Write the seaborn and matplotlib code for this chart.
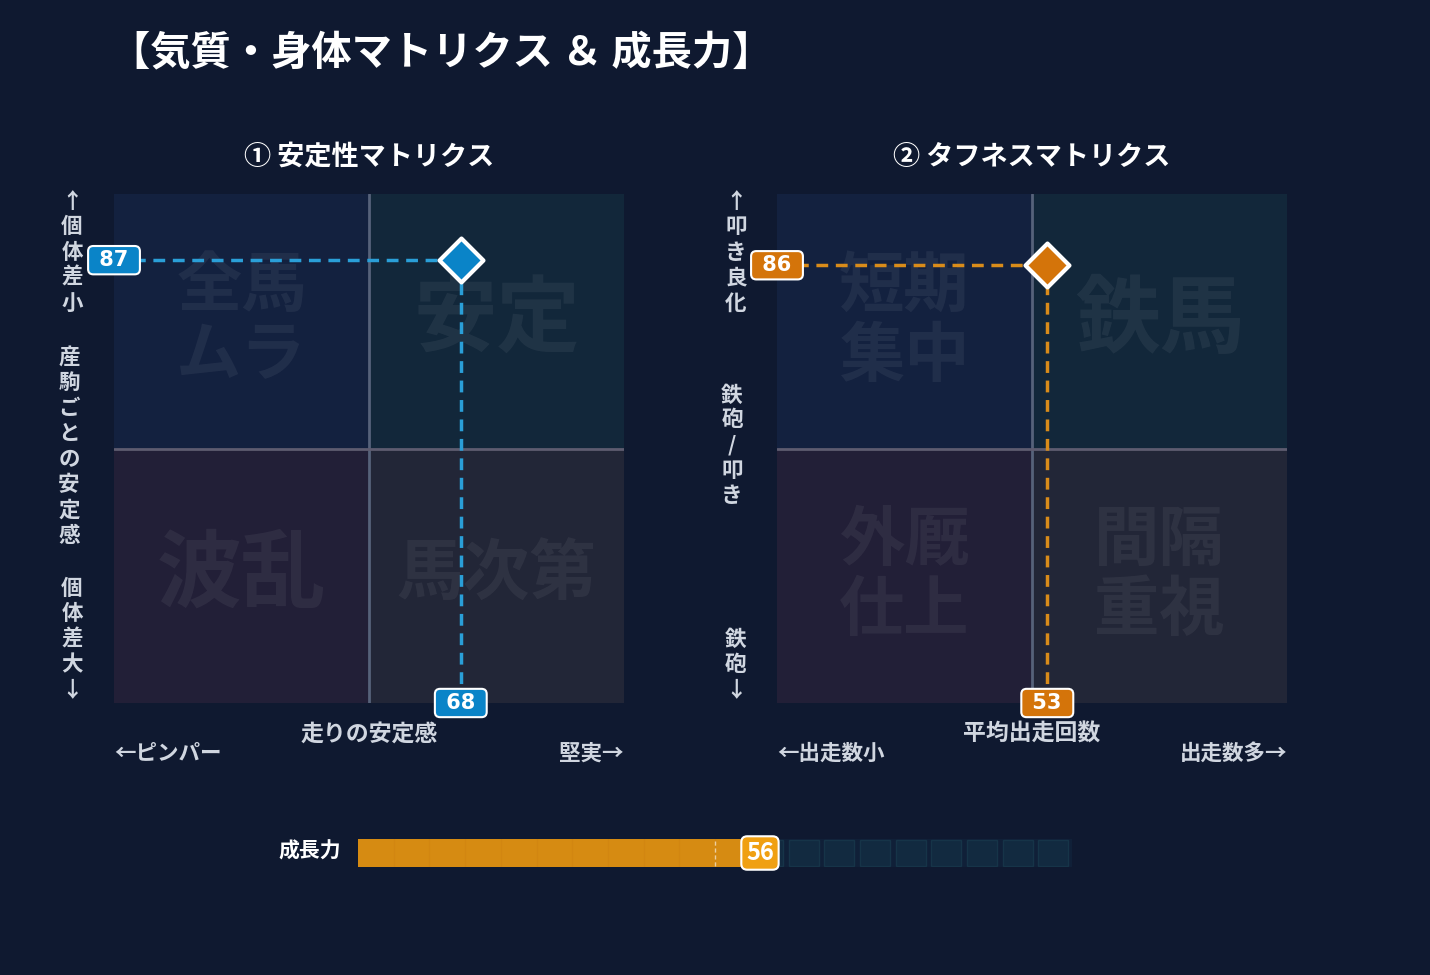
import matplotlib
matplotlib.use("Agg")
import matplotlib.pyplot as plt
from matplotlib.patches import Rectangle
import seaborn as sns

sns.set_theme(style="dark")
plt.rcParams["font.family"] = ["Noto Sans CJK JP", "DejaVu Sans"]

W, H = 1430, 975
BG = "#0f1930"

# データ
main_title = "【気質・身体マトリクス ＆ 成長力】"
panel_titles = ["① 安定性マトリクス", "② タフネスマトリクス"]
x_labels = ["走りの安定感", "平均出走回数"]
x_left_labels = ["←ピンパー", "←出走数小"]
x_right_labels = ["堅実→", "出走数多→"]
y_label_groups = [
    ["↑個体差小", "産駒ごとの安定感", "個体差大↓"],
    ["↑叩き良化", "鉄砲/叩き", "鉄砲↓"],
]
quad_words = [
    ["全馬\nムラ", "安定", "波乱", "馬次第"],
    ["短期\n集中", "鉄馬", "外厩\n仕上", "間隔\n重視"],
]
point_x = [68, 53]
point_y = [87, 86]
growth_label = "成長力"
growth_value = 56
growth_mark = 50

# 見た目
panel_left_px = [114, 777]
accent = ["#0a84c8", "#d4740a"]
dash_color = ["#2a9fd8", "#d98c1a"]
quad_colors = ["#13213f", "#12273a", "#221f37", "#222637"]
quad_sizes = [[47, 60, 61, 48], [47, 61, 47, 47]]
# y軸ラベル (x, 先頭文字の中心y, 文字間隔)
y_label_pos = [
    [(72, 201, 25.5), (69, 357, 25.5), (72, 588, 25.5)],
    [(736, 201, 25.5), (732, 395, 25), (736, 639, 25.5)],
]
label_color = "#d0d6e0"


def fx(x):
    return x / W


def fy(y):
    return 1 - y / H


fig = plt.figure(figsize=(W / 100, H / 100), dpi=100, facecolor=BG)

fig.text(fx(110), fy(53), main_title, color="white", fontsize=29,
         fontweight="bold", ha="left", va="center")

for i in range(2):
    x0 = panel_left_px[i]
    ax = fig.add_axes([fx(x0), fy(703), 510 / W, 509 / H])
    ax.set_xlim(0, 100)
    ax.set_ylim(0, 100)
    ax.set_facecolor(BG)
    for s in ax.spines.values():
        s.set_visible(False)
    ax.set_xticks([])
    ax.set_yticks([])

    # 4象限
    spans = [(50, 100, 0, 0.5), (50, 100, 0.5, 1), (0, 50, 0, 0.5), (0, 50, 0.5, 1)]
    for (y0, y1, a, b), c in zip(spans, quad_colors):
        ax.axhspan(y0, y1, xmin=a, xmax=b, color=c, lw=0, zorder=0)
    ax.axvline(50, color="#56627a", lw=2, zorder=1)
    ax.axhline(50, color="#5e5c70", lw=2, zorder=1)

    centers = [(25, 75), (75, 75), (25, 25), (75, 25)]
    for (cx, cy), word, fs in zip(centers, quad_words[i], quad_sizes[i]):
        ax.text(cx, cy, word, color="white", alpha=0.06, fontsize=fs,
                fontweight="bold", ha="center", va="center",
                linespacing=1.05, zorder=1)

    px, py = point_x[i], point_y[i]
    ax.plot([0, px], [py, py], color=dash_color[i], lw=2.5,
            dashes=(3.4, 2.2), zorder=3)
    ax.plot([px, px], [0, py], color=dash_color[i], lw=2.5,
            dashes=(3.4, 2.2), zorder=3)
    sns.scatterplot(x=[px], y=[py], marker="D", s=500, color=accent[i],
                    edgecolor="white", linewidth=3, ax=ax, zorder=6,
                    clip_on=False, legend=False)

    box = dict(boxstyle="round,pad=0.2,rounding_size=0.25", fc=accent[i],
               ec="white", lw=1.5)
    ax.text(0, py, f" {py} ", color="white", fontsize=15, fontweight="bold",
            family="DejaVu Sans", ha="center", va="center", bbox=box,
            zorder=7, clip_on=False)
    ax.text(px, 0, f" {px} ", color="white", fontsize=15, fontweight="bold",
            family="DejaVu Sans", ha="center", va="center", bbox=box,
            zorder=7, clip_on=False)

    mid = x0 + 255
    fig.text(fx(mid), fy(157), panel_titles[i], color="white", fontsize=19.5,
             fontweight="bold", ha="center", va="center")
    fig.text(fx(mid), fy(734), x_labels[i], color=label_color, fontsize=16.5,
             fontweight="bold", ha="center", va="center")
    fig.text(fx(x0), fy(753), x_left_labels[i], color=label_color,
             fontsize=15.5, fontweight="bold", ha="left", va="center")
    fig.text(fx(x0 + 510), fy(753), x_right_labels[i], color=label_color,
             fontsize=15.5, fontweight="bold", ha="right", va="center")

    for words, (tx, ty, step) in zip(y_label_groups[i], y_label_pos[i]):
        for k, ch in enumerate(words):
            fig.text(fx(tx), fy(ty + k * step), ch, color=label_color,
                     fontsize=15.5, fontweight="bold", ha="center", va="center")

# 成長力バー
gax = fig.add_axes([fx(358), fy(867), 714 / W, 28 / H])
gax.set_xlim(0, 100)
gax.set_ylim(0, 1)
gax.set_facecolor("#102038")
for s in gax.spines.values():
    s.set_visible(False)
gax.set_xticks([])
gax.set_yticks([])
for k in range(20):
    gax.add_patch(Rectangle((k * 5 + 0.3, 0.05), 4.2, 0.9, fc="#122a40",
                            ec="#163448", lw=1, zorder=1))
gax.barh(0.5, growth_value, height=1.0, left=0, color="#d68b12", lw=0,
         zorder=2)
for k in range(1, 20):
    if k * 5 < growth_value:
        gax.axvline(k * 5, color="#d28611", lw=1, zorder=3)
gax.axvline(growth_mark, ymin=0.05, ymax=0.95, color="white", alpha=0.6,
            lw=1, dashes=(3, 2), zorder=4)
gax.text(growth_value + 0.3, 0.5, str(growth_value), color="white",
         fontsize=17, fontweight="bold", ha="center", va="center", zorder=6,
         clip_on=False,
         bbox=dict(boxstyle="round,pad=0.2,rounding_size=0.25", fc="#f0a012",
                   ec="white", lw=1.5))
fig.text(fx(310), fy(851), growth_label, color="white", fontsize=15,
         fontweight="bold", ha="center", va="center")

fig.savefig("out.png", dpi=100, facecolor=BG)
